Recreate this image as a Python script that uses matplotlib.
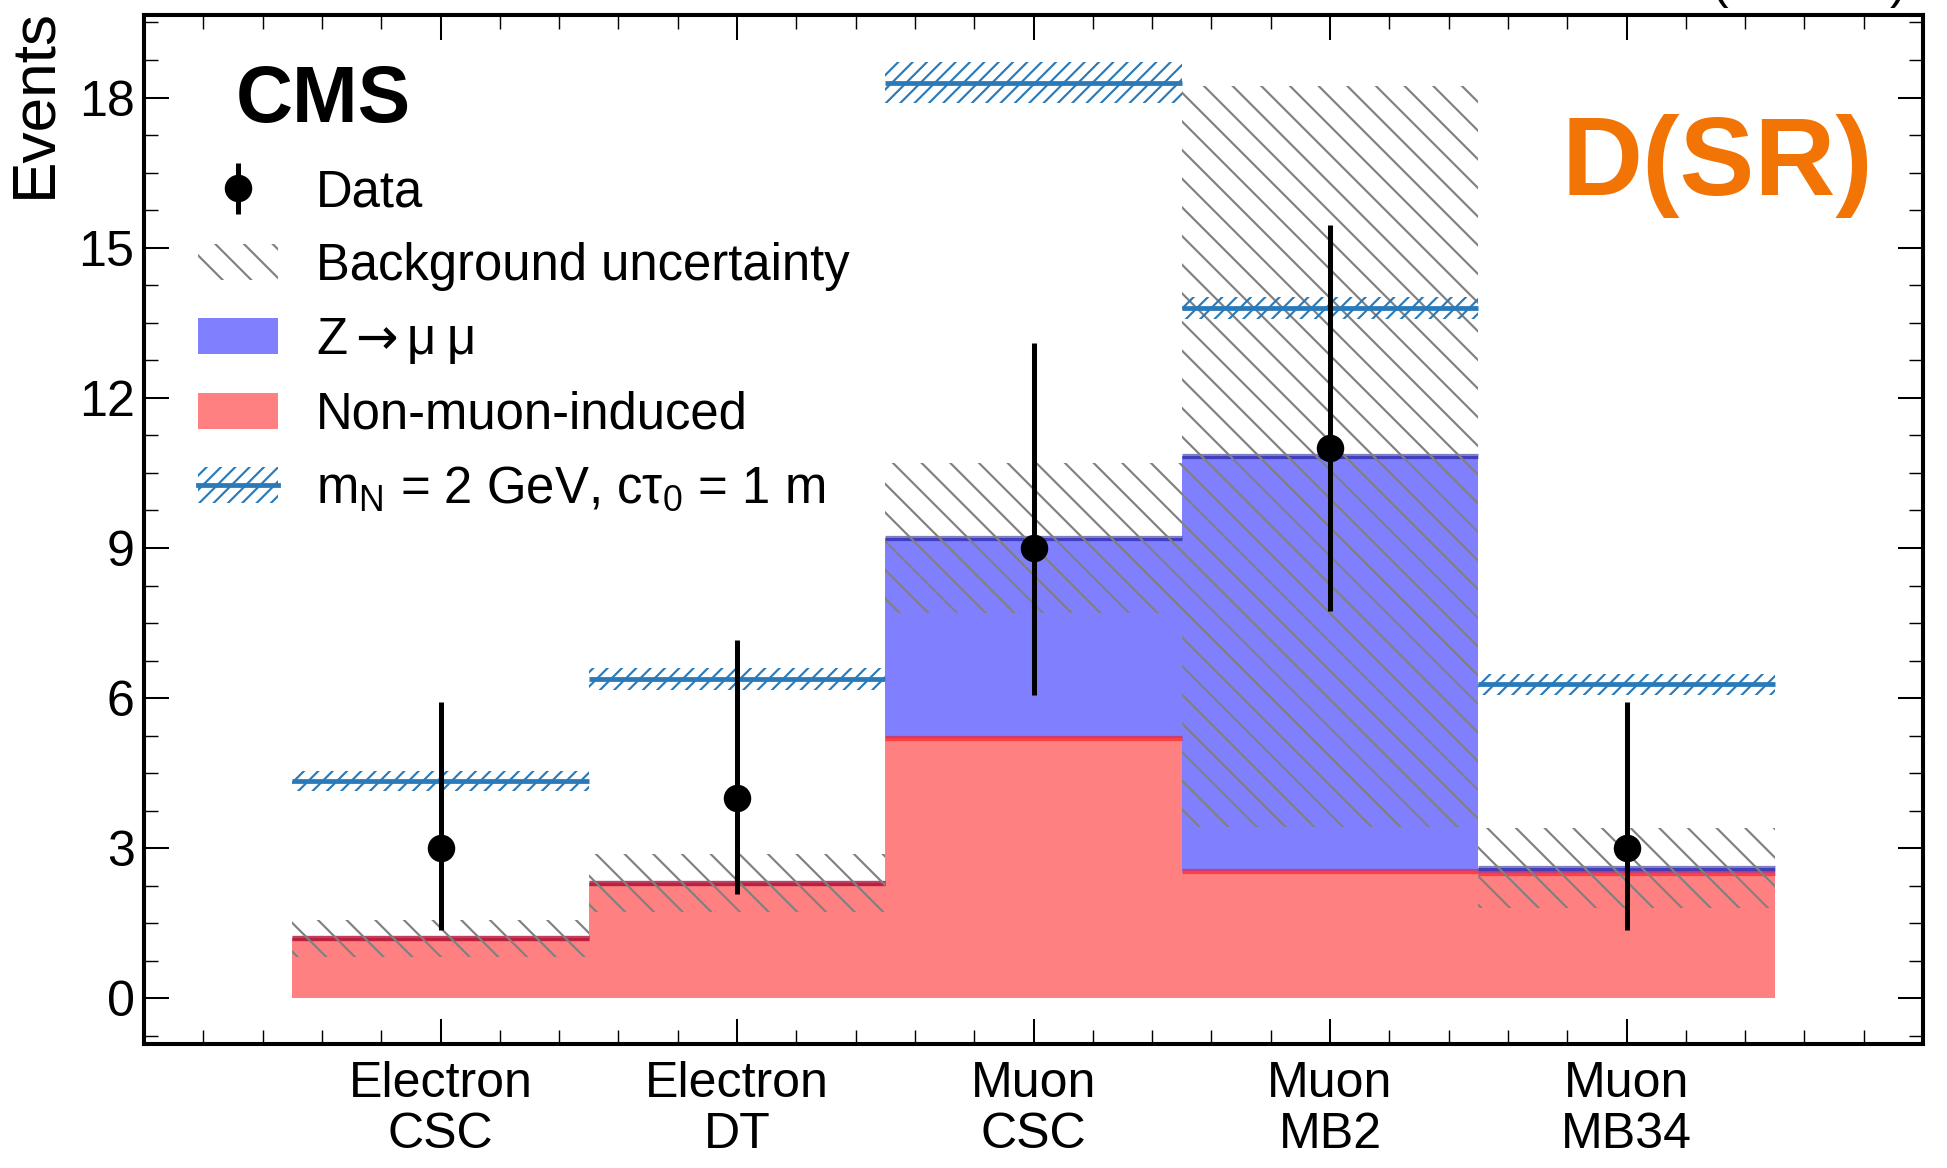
import numpy as np
import matplotlib.pyplot as plt
from matplotlib.patches import Patch
from matplotlib.lines import Line2D
from matplotlib.ticker import MultipleLocator

plt.rcParams['font.family'] = ['Liberation Sans', 'DejaVu Sans']
plt.rcParams['mathtext.fontset'] = 'custom'
plt.rcParams['mathtext.rm'] = 'Liberation Sans'
plt.rcParams['mathtext.it'] = 'Liberation Sans'
plt.rcParams['mathtext.sf'] = 'DejaVu Sans'
plt.rcParams['mathtext.default'] = 'regular'
plt.rcParams['hatch.linewidth'] = 0.9

# Bins of the signal region
categories = ["Electron\nCSC", "Electron\nDT", "Muon\nCSC", "Muon\nMB2", "Muon\nMB34"]

# Background prediction (stacked) and its uncertainty
non_muon = [1.2, 2.3, 5.2, 2.55, 2.5]
z_mumu = [0.0, 0.0, 4.0, 8.28, 0.1]
bkg_unc = [0.37, 0.58, 1.5, 7.4, 0.8]

# Observed events with asymmetric Poisson errors
data_obs = [3, 4, 9, 11, 3]
data_err_lo = [1.63, 1.91, 2.94, 3.25, 1.63]
data_err_hi = [2.92, 3.16, 4.1, 4.45, 2.92]

# Signal expectation, m_N = 2 GeV, ctau = 1 m
signal = [4.35, 6.38, 18.3, 13.8, 6.28]
signal_unc = [0.2, 0.22, 0.4, 0.22, 0.21]

red_fill = '#ff8080'
blue_fill = '#8080ff'
sig_color = '#2a7ab9'
bkg_hatch = '\\\\'
sig_hatch = '////'

x = np.arange(len(categories))
edges = np.arange(len(categories) + 1) - 0.5
nm = np.array(non_muon)
total = nm + np.array(z_mumu)
unc = np.array(bkg_unc)
sig = np.array(signal)
sig_unc = np.array(signal_unc)

dpi = 172
fig = plt.figure(figsize=(1947 / dpi, 1168 / dpi), dpi=dpi)
ax = fig.add_axes([0.074, 0.1062, 0.9137, 0.881])

# stacked backgrounds
ax.stairs(nm, edges, fill=True, color=red_fill, lw=0, zorder=1)
ax.stairs(total, edges, baseline=nm, fill=True, color=blue_fill, lw=0, zorder=1)
ax.hlines(total, edges[:-1], edges[1:], color='#000080', alpha=0.5, lw=2.2, zorder=2)
ax.hlines(nm, edges[:-1], edges[1:], color='red', alpha=0.5, lw=2.2, zorder=2)

# background uncertainty band
ax.stairs(total + unc, edges, baseline=total - unc, fill=True, facecolor='none',
          edgecolor='#808080', hatch=bkg_hatch, lw=0, zorder=3)

# signal
ax.stairs(sig + sig_unc, edges, baseline=sig - sig_unc, fill=True, facecolor='none',
          edgecolor=sig_color, hatch=sig_hatch, lw=0, zorder=4)
ax.hlines(sig, edges[:-1], edges[1:], color=sig_color, lw=2.0, zorder=4)

# data
eb = ax.errorbar(x, data_obs, yerr=[data_err_lo, data_err_hi], fmt='o', color='black',
                 ms=10.5, elinewidth=2.1, capsize=0, zorder=5)

ax.set_xlim(-1, 5)
ax.set_ylim(-0.91, 19.65)
ax.set_xticks(x)
ax.set_xticklabels(categories, fontsize=21, linespacing=1.15)
ax.xaxis.set_minor_locator(MultipleLocator(0.2))
ax.yaxis.set_major_locator(MultipleLocator(3))
ax.yaxis.set_minor_locator(MultipleLocator(0.75))
ax.tick_params(which='both', direction='in', top=True, right=True, labelsize=21)
ax.tick_params(which='major', length=10.6, width=0.85)
ax.tick_params(which='minor', length=5.8, width=0.6)
ax.tick_params(axis='x', which='major', pad=7)
ax.tick_params(axis='y', which='major', pad=4)
for sp in ax.spines.values():
    sp.set_linewidth(1.7)

fig.text(35 / 1947, 1 - 8 / 1168, 'Events', rotation=90, va='top', ha='center', fontsize=26)

ax.text(0.0517, 0.896, 'CMS', transform=ax.transAxes, fontsize=33, fontweight='bold',
        ha='left', va='baseline')
ax.text(0.972, 0.825, 'D(SR)', transform=ax.transAxes, fontsize=47, fontweight='bold',
        color='#f27405', ha='right', va='baseline')
fig.text(1905 / 1947, 1.0009, r'138 fb$^{-1}$ (13 TeV)', fontsize=21, ha='right', va='baseline')

handles = [
    eb,
    Patch(facecolor='none', edgecolor='#808080', hatch=bkg_hatch, lw=0),
    Patch(facecolor=blue_fill, lw=0),
    Patch(facecolor=red_fill, lw=0),
    (Patch(facecolor='none', edgecolor=sig_color, hatch=sig_hatch, lw=0),
     Line2D([], [], color=sig_color, lw=2.0)),
]
labels = [
    'Data',
    'Background uncertainty',
    r'Z$\mathsf{\rightarrow}$' + '\u03bc\u2009\u03bc',
    'Non-muon-induced',
    r'$m_{N}$ = 2 GeV, c$\tau_{0}$ = 1 m',
]
ax.legend(handles, labels, loc='upper left', bbox_to_anchor=(0.019, 0.871), frameon=False,
          fontsize=21.3, handlelength=1.56, handleheight=0.72, handletextpad=0.76,
          labelspacing=0.49, borderaxespad=0)

fig.savefig('out.png', dpi=dpi)
